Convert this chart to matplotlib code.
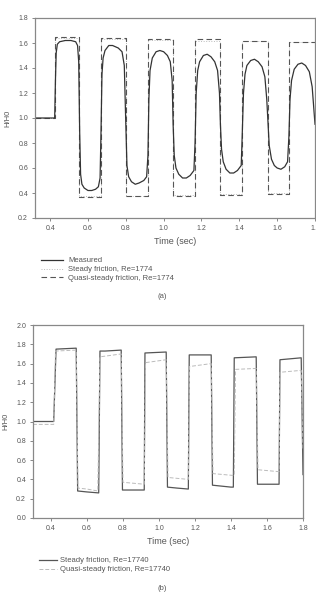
import matplotlib
matplotlib.use("Agg")
import matplotlib.pyplot as plt

# ------------------------------------------------------------
# (a) Re=1774
# ------------------------------------------------------------
meas_a_t = [0.32, 0.424, 0.428, 0.432, 0.438, 0.45, 0.48, 0.51, 0.535, 0.545, 0.551, 0.556, 0.561,
            0.568, 0.58, 0.60, 0.62, 0.64, 0.655, 0.664, 0.669, 0.674, 0.68, 0.69, 0.71, 0.73,
            0.76, 0.78, 0.792, 0.80, 0.806, 0.815, 0.83, 0.85, 0.87, 0.895, 0.91, 0.917, 0.922,
            0.928, 0.94, 0.96, 0.98, 1.00, 1.02, 1.035, 1.045, 1.05, 1.056, 1.065, 1.08, 1.10,
            1.12, 1.14, 1.16, 1.166, 1.172, 1.18, 1.19, 1.21, 1.23, 1.25, 1.27, 1.285, 1.295,
            1.30, 1.306, 1.315, 1.33, 1.35, 1.37, 1.39, 1.41, 1.415, 1.422, 1.43, 1.44, 1.46,
            1.48, 1.50, 1.52, 1.535, 1.545, 1.552, 1.558, 1.57, 1.585, 1.60, 1.62, 1.64, 1.655,
            1.662, 1.668, 1.676, 1.69, 1.71, 1.73, 1.75, 1.77, 1.785, 1.795, 1.80]
meas_a_h = [1.00, 1.00, 1.30, 1.52, 1.59, 1.61, 1.62, 1.62, 1.61, 1.58, 1.45, 0.90, 0.55,
            0.47, 0.44, 0.42, 0.42, 0.43, 0.45, 0.52, 0.90, 1.35, 1.48, 1.54, 1.58, 1.58,
            1.56, 1.53, 1.42, 0.95, 0.62, 0.53, 0.49, 0.47, 0.48, 0.50, 0.53, 0.70, 1.15,
            1.38, 1.48, 1.53, 1.54, 1.53, 1.50, 1.45, 1.30, 0.95, 0.70, 0.60, 0.55, 0.52,
            0.52, 0.54, 0.58, 0.80, 1.20, 1.38, 1.45, 1.50, 1.51, 1.49, 1.45, 1.38, 1.20,
            0.95, 0.75, 0.65, 0.59, 0.56, 0.56, 0.58, 0.62, 0.85, 1.20, 1.35, 1.42, 1.46,
            1.47, 1.45, 1.41, 1.33, 1.15, 0.95, 0.78, 0.67, 0.62, 0.60, 0.59, 0.61, 0.65,
            0.85, 1.15, 1.30, 1.39, 1.43, 1.44, 1.42, 1.37, 1.25, 1.05, 0.95]

quasi_a_t = [0.32, 0.427, 0.427, 0.555, 0.555, 0.668, 0.668, 0.80, 0.80, 0.918, 0.918, 1.05,
             1.05, 1.167, 1.167, 1.30, 1.30, 1.415, 1.415, 1.553, 1.553, 1.665, 1.665, 1.80]
quasi_a_h = [1.00, 1.00, 1.65, 1.65, 0.37, 0.37, 1.64, 1.64, 0.375, 0.375, 1.63, 1.63,
             0.38, 0.38, 1.63, 1.63, 0.385, 0.385, 1.62, 1.62, 0.395, 0.395, 1.61, 1.61]

steady_a_t = quasi_a_t
steady_a_h = [1.00, 1.00, 1.64, 1.64, 0.375, 0.375, 1.635, 1.635, 0.38, 0.38, 1.625, 1.625,
              0.385, 0.385, 1.62, 1.62, 0.39, 0.39, 1.615, 1.615, 0.40, 0.40, 1.605, 1.605]

# ------------------------------------------------------------
# (b) Re=17740
# ------------------------------------------------------------
steady_b_t = [0.30, 0.415, 0.428, 0.54, 0.548, 0.60, 0.665, 0.672, 0.70, 0.79, 0.797, 0.918,
              0.922, 1.04, 1.047, 1.10, 1.163, 1.168, 1.29, 1.297, 1.40, 1.413, 1.418, 1.54,
              1.547, 1.667, 1.672, 1.79, 1.80]
steady_b_h = [1.00, 1.00, 1.75, 1.76, 0.28, 0.27, 0.26, 1.73, 1.73, 1.74, 0.29, 0.29,
              1.71, 1.72, 0.32, 0.31, 0.30, 1.69, 1.69, 0.34, 0.32, 0.32, 1.66, 1.67,
              0.35, 0.35, 1.64, 1.66, 0.45]

quasi_b_t = [0.30, 0.415, 0.425, 0.54, 0.55, 0.60, 0.66, 0.672, 0.79, 0.80, 0.918, 0.925,
             1.04, 1.05, 1.163, 1.17, 1.29, 1.30, 1.418, 1.425, 1.54, 1.55, 1.667, 1.672,
             1.79, 1.80]
quasi_b_h = [0.97, 0.97, 1.73, 1.74, 0.31, 0.30, 0.28, 1.67, 1.70, 0.37, 0.35, 1.61,
             1.64, 0.42, 0.40, 1.57, 1.60, 0.46, 0.44, 1.54, 1.55, 0.50, 0.48, 1.51,
             1.53, 0.70]

xticks = [0.4, 0.6, 0.8, 1.0, 1.2, 1.4, 1.6, 1.8]
yticks_a = [0.2, 0.4, 0.6, 0.8, 1.0, 1.2, 1.4, 1.6, 1.8]
yticks_b = [0.0, 0.2, 0.4, 0.6, 0.8, 1.0, 1.2, 1.4, 1.6, 1.8, 2.0]

plt.rcParams['font.family'] = ['Liberation Sans', 'DejaVu Sans']
TXT = "#555555"
W, H = 316, 606

fig = plt.figure(figsize=(W / 100, H / 100), dpi=100)
fig.patch.set_facecolor("white")


def px_axes(left, top, right, bottom):
    return fig.add_axes([left / W, 1 - bottom / H, (right - left) / W, (bottom - top) / H])


def style(ax, yticks, xlim, ylim):
    ax.set_xlim(*xlim)
    ax.set_ylim(*ylim)
    ax.set_xticks(xticks)
    ax.set_yticks(yticks)
    ax.set_xticklabels([f"{v:.1f}" for v in xticks])
    ax.set_yticklabels([f"{v:.1f}" for v in yticks])
    for s in ax.spines.values():
        s.set_color("#888888")
        s.set_linewidth(0.9)
    ax.tick_params(direction="out", length=2.5, width=0.7, color="#888888",
                   labelsize=5, labelcolor=TXT, pad=2.5)
    ax.set_xlabel("Time (sec)", fontsize=6.5, color=TXT, labelpad=4)
    ax.set_ylabel("H/H0", fontsize=5.5, color=TXT, labelpad=5)


# (a)
ax1 = px_axes(35, 18, 315, 218)
ax1.plot(steady_a_t, steady_a_h, color="#bbbbbb", lw=0.7, ls=":", label="Steady friction, Re=1774")
ax1.plot(quasi_a_t, quasi_a_h, color="#555555", lw=0.8, ls=(0, (5, 3)), label="Quasi-steady friction, Re=1774")
ax1.plot(meas_a_t, meas_a_h, color="#333333", lw=0.9, label="Measured")
style(ax1, yticks_a, (0.32, 1.8), (0.2, 1.8))
h, l = ax1.get_legend_handles_labels()
ax1.legend([h[2], h[0], h[1]], [l[2], l[0], l[1]], loc="upper left",
           bbox_to_anchor=(41 / W, 1 - 257 / H), bbox_transform=fig.transFigure,
           frameon=False, fontsize=5.5, labelcolor=TXT, handlelength=2.9,
           handletextpad=0.65, labelspacing=0.2, borderpad=0, borderaxespad=0)
fig.text(162 / W, 1 - 297 / H, "(a)", fontsize=5.5, color=TXT, ha="center", va="center")

# (b)
ax2 = px_axes(33, 325, 303, 518)
ax2.plot(steady_b_t, steady_b_h, color="#555555", lw=0.9, label="Steady friction, Re=17740")
ax2.plot(quasi_b_t, quasi_b_h, color="#bbbbbb", lw=0.7, ls=(0, (4, 2)), label="Quasi-steady friction, Re=17740")
style(ax2, yticks_b, (0.3, 1.8), (0.0, 2.0))
ax2.legend(loc="upper left", bbox_to_anchor=(39 / W, 1 - 557 / H), bbox_transform=fig.transFigure,
           frameon=False, fontsize=5.5, labelcolor=TXT, handlelength=2.4,
           handletextpad=0.4, labelspacing=0.2, borderpad=0, borderaxespad=0)
fig.text(162 / W, 1 - 589 / H, "(b)", fontsize=5.5, color=TXT, ha="center", va="center")

fig.savefig("out.png", dpi=100)
